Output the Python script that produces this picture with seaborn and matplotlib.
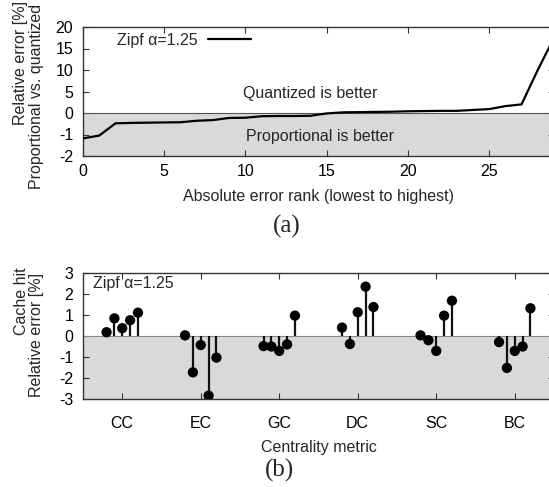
import numpy as np
import pandas as pd
import seaborn as sns
import matplotlib.pyplot as plt

# --- data ---
# (a) relative error, proportional vs. quantized, sorted by absolute error rank
rank = list(range(30))
rel_err = [-1.18, -1.05, -0.48, -0.46, -0.45, -0.44, -0.43, -0.36, -0.33, -0.23,
           -0.22, -0.15, -0.14, -0.14, -0.13, -0.02, 0.15, 0.2, 0.25, 0.3,
           0.4, 0.45, 0.5, 0.5, 0.7, 0.9, 1.6, 2.0, 10.0, 17.5]

# (b) cache hit relative error per centrality metric (5 runs each)
metrics = ['CC', 'EC', 'GC', 'DC', 'SC', 'BC']
cc = [0.18, 0.84, 0.37, 0.75, 1.11]
ec = [0.03, -1.73, -0.43, -2.84, -1.03]
gc = [-0.48, -0.5, -0.71, -0.4, 0.97]
dc = [0.4, -0.38, 1.13, 2.35, 1.38]
sc = [0.03, -0.2, -0.71, 0.97, 1.68]
bc = [-0.29, -1.52, -0.71, -0.5, 1.32]

sns.set_style('ticks')
FS = 11.5
plt.rcParams['font.family'] = ['Liberation Sans', 'DejaVu Sans']
plt.rcParams['font.size'] = FS
plt.rcParams['axes.unicode_minus'] = False
plt.rcParams['axes.edgecolor'] = '#333333'
plt.rcParams['axes.linewidth'] = 1.0

W, H = 549, 487
fig = plt.figure(figsize=(W / 100, H / 100), dpi=100)

def px_axes(left, top, right, bottom):
    return fig.add_axes([left / W, 1 - bottom / H, (right - left) / W, (bottom - top) / H])

gray = '#d9d9d9'

# ---------- (a) ----------
ax1 = px_axes(83, 27, 554, 156)

def fwd(y):
    y = np.asarray(y, dtype=float)
    return np.where(y >= 0, y / 5.0, y)

def inv(y):
    y = np.asarray(y, dtype=float)
    return np.where(y >= 0, y * 5.0, y)

ax1.set_yscale('function', functions=(fwd, inv))
ax1.axhspan(-2, 0, color=gray, zorder=0, lw=0)
ax1.axhline(0, color='#555555', lw=0.8, zorder=1)
df_a = pd.DataFrame({'rank': rank, 'err': rel_err})
sns.lineplot(data=df_a, x='rank', y='err', ax=ax1, color='black', lw=1.6,
             label='Zipf \u03b1=1.25', zorder=3)
ax1.set_xlim(0, 29)
ax1.set_ylim(-2, 20)
ax1.set_yticks([-2, -1, 0, 5, 10, 15, 20])
ax1.set_yticklabels(['-2', '-1', '0', '5', '10', '15', '20'])
ax1.set_xticks([0, 5, 10, 15, 20, 25])
ax1.tick_params(direction='in', top=True, right=True, length=4, width=0.8,
                labelsize=FS, colors='#333333', labelcolor='black')
ax1.tick_params(axis='x', pad=6)
ax1.tick_params(axis='y', pad=7)
ax1.set_xlabel('Absolute error rank (lowest to highest)', fontsize=FS, labelpad=7)
ax1.set_ylabel('')
ax1.text(14.0, 4.6, 'Quantized is better', ha='center', va='center', fontsize=FS)
ax1.text(14.6, -1.1, 'Proportional is better', ha='center', va='center', fontsize=FS)
ax1.legend(loc='center left', bbox_to_anchor=(0.072, 0.899), frameon=False,
           markerfirst=False, handlelength=2.7, handletextpad=0.65,
           borderpad=0, borderaxespad=0, fontsize=FS)

# ---------- (b) ----------
ax2 = px_axes(83, 273, 554, 399)
rows = []
for i, (m, vals) in enumerate(zip(metrics, [cc, ec, gc, dc, sc, bc])):
    for j, v in enumerate(vals):
        rows.append({'metric': m, 'pos': i + (j - 2) * 0.1, 'value': v})
df_b = pd.DataFrame(rows)

ax2.axhspan(-3, 0, color=gray, zorder=0, lw=0)
ax2.axhline(0, color='#888888', lw=0.8, zorder=1)
ax2.vlines(df_b['pos'], 0, df_b['value'], color='#111111', lw=1.6, zorder=2)
sns.scatterplot(data=df_b, x='pos', y='value', ax=ax2, color='black',
                s=55, edgecolor='none', zorder=3, legend=False)
ax2.set_xlim(-0.5, 5.5)
ax2.set_ylim(-3, 3)
ax2.set_yticks(range(-3, 4))
ax2.set_xticks(range(len(metrics)))
ax2.set_xticklabels(metrics)
ax2.tick_params(direction='in', top=True, right=True, length=4, width=0.8,
                labelsize=FS, colors='#333333', labelcolor='black')
ax2.tick_params(axis='x', pad=12)
ax2.tick_params(axis='y', pad=7)
ax2.set_xlabel('Centrality metric', fontsize=FS, labelpad=7)
ax2.set_ylabel('')
ax2.text(0.021, 0.913, 'Zipf \u03b1=1.25', transform=ax2.transAxes,
         ha='left', va='center', fontsize=FS)

# y labels (two lines each)
fig.text(20 / W, 1 - 125 / H, 'Relative error [%]', rotation=90,
         ha='center', va='bottom', fontsize=FS)
fig.text(37 / W, 1 - 189 / H, 'Proportional vs. quantized', rotation=90,
         ha='center', va='bottom', fontsize=FS)
fig.text(21 / W, 1 - 335 / H, 'Cache hit', rotation=90,
         ha='center', va='bottom', fontsize=FS)
fig.text(37 / W, 1 - 397 / H, 'Relative error [%]', rotation=90,
         ha='center', va='bottom', fontsize=FS)

# sub-figure captions
fig.text(287 / W, 1 - 226 / H, '(a)', ha='center', va='center', fontsize=18,
         family=['Liberation Serif', 'DejaVu Serif'])
fig.text(280 / W, 1 - 470 / H, '(b)', ha='center', va='center', fontsize=18,
         family=['Liberation Serif', 'DejaVu Serif'])

fig.savefig('out.png', dpi=100)
